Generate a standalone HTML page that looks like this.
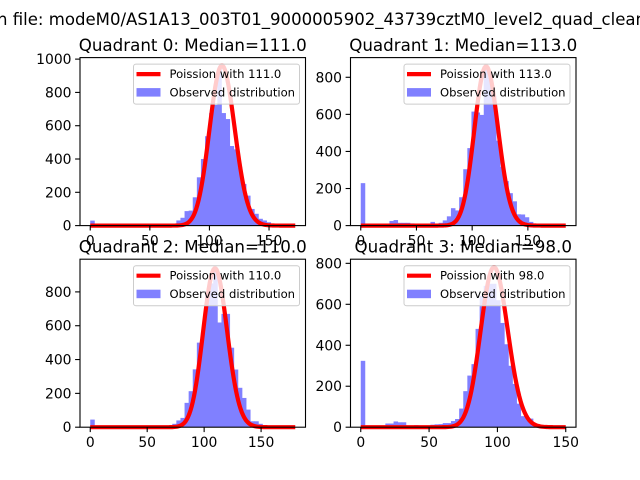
<!DOCTYPE html>
<html><head><meta charset="utf-8"><style>
html,body{margin:0;padding:0;background:#fff;width:640px;height:480px;overflow:hidden}
svg{display:block;font-family:"DejaVu Sans","Liberation Sans",sans-serif}
</style></head><body>
<svg id="fig" width="640" height="480" viewBox="0 0 640 480" xmlns="http://www.w3.org/2000/svg">
<rect width="640" height="480" fill="#fff"/>
<text x="-3" y="25" font-size="16.7" fill="#000" textLength="649" lengthAdjust="spacingAndGlyphs">n file: modeM0/AS1A13_003T01_9000005902_43739cztM0_level2_quad_clean</text>
</svg>
<script>
const titles = ["Quadrant 0: Median=111.0","Quadrant 1: Median=113.0","Quadrant 2: Median=110.0","Quadrant 3: Median=98.0"];
const medians = [111, 113, 110, 98];
const amplitudes = [25400, 22900, 24700, 19400];
const dataMax = [172, 184, 180, 150];
const xTickValues = [0, 50, 100, 150];
const yTickValues = [0, 200, 400, 600, 800, 1000];
const counts0 = [30,0,0,0,0,0,0,0,0,0,0,0,0,0,0,0,0,0,0,0,10,31,47,87,90,170,290,400,537,676,725,950,676,640,478,458,349,250,180,100,71,41,31,20,8,5,3,2,1,1];
const counts1 = [229,0,0,0,0,0,0,25,30,15,15,15,12,10,10,10,10,20,10,15,28,50,94,82,153,304,418,615,610,597,863,797,700,458,317,240,175,131,61,60,45,20,10,5,3,2,1,1,0,0];
const counts2 = [45,0,0,0,0,0,0,0,0,0,0,0,0,0,0,0,0,0,0,8,20,40,55,144,213,342,500,560,780,850,946,619,670,670,470,341,233,173,104,35,35,20,5,2,1,0,0,0,0,0];
const counts3 = [324,0,0,0,0,0,18,18,28,24,24,0,5,10,5,5,8,12,14,15,20,20,30,40,91,176,252,308,480,640,690,700,700,620,509,405,300,211,115,54,50,42,18,5,2,1,1,0,0,0];
const allCounts = [counts0, counts1, counts2, counts3];

const NS = "http://www.w3.org/2000/svg";
const svg = document.getElementById('fig');
function mk(tag, attrs, parent){
  const e = document.createElementNS(NS, tag);
  for (const k in attrs) e.setAttribute(k, attrs[k]);
  (parent||svg).appendChild(e);
  return e;
}
function lgamma(n){ let s=0; for(let i=2;i<=n;i++) s+=Math.log(i); return s; }
function pmf(k, mu){ return Math.exp(k*Math.log(mu) - mu - lgamma(k)); }

const boxes = [[80,57.6],[350.5,57.6],[80,259.2],[350.5,259.2]];
const W = 225.5, H = 168;

for (let p=0;p<4;p++){
  const [L,T] = boxes[p];
  const counts = allCounts[p];
  const d = dataMax[p], n = counts.length, bw = d/n;
  const xmin = -0.05*d, xmax = 1.05*d;
  const X = v => L + (v - xmin)/(xmax - xmin)*W;
  const curve = [];
  for (let k=0;k<=d;k++) curve.push(amplitudes[p]*pmf(k, medians[p]));
  const ymax = 1.05*Math.max(Math.max(...counts), Math.max(...curve));
  const Y = v => T + H - v/ymax*H;
  const g = mk('g', {});
  
  
  counts.forEach((c,i)=>{
    if (c<=0) return;
    const x0 = X(i*bw), x1 = X((i+1)*bw);
    const r = mk('rect', {x:x0, y:Y(c), width:x1-x0+0.4, height:Y(0)-Y(c), fill:'#8080ff'}, g);
    
    
  });
  const pts = curve.map((v,k)=>X(k).toFixed(2)+','+Y(v).toFixed(2)).join(' ');
  const line = mk('polyline', {points:pts, fill:'none', stroke:'#ff0000', 'stroke-width':4.2, 'stroke-linejoin':'round'}, g);
  
  
  const frame = mk('rect', {x:L, y:T, width:W, height:H, fill:'none', stroke:'#000', 'stroke-width':1.1}, g);
  
  
  xTickValues.forEach(v=>{
    const x = X(v);
    const t = mk('line', {x1:x, x2:x, y1:T+H, y2:T+H+4.9, stroke:'#000', 'stroke-width':1.1}, g);
    
    
    const lb = mk('text', {x:x, y:T+H+20, 'font-size':13.9, 'text-anchor':'middle', fill:'#000'}, g);
    lb.textContent = v;
    
    
  });
  yTickValues.forEach(v=>{
    if (v > ymax) return;
    const y = Y(v);
    const t = mk('line', {x1:L-4.9, x2:L, y1:y, y2:y, stroke:'#000', 'stroke-width':1.1}, g);
    
    
    const lb = mk('text', {x:L-8.5, y:y+5, 'font-size':13.9, 'text-anchor':'end', fill:'#000'}, g);
    lb.textContent = v;
    
    
  });
  const tt = mk('text', {x:L+W/2, y:T-6.5, 'font-size':16.7, 'text-anchor':'middle', fill:'#000'}, g);
  tt.textContent = titles[p];
  
  
  const lg = mk('g', {}, g);
  
  
  const lx = L+W-172, ly = T+6.5;
  mk('rect', {x:lx, y:ly, width:166, height:40, rx:2.5, fill:'#fff', 'fill-opacity':0.8, stroke:'#cccccc', 'stroke-width':1}, lg);
  const ls = mk('line', {x1:lx+3, x2:lx+27, y1:ly+10, y2:ly+10, stroke:'#ff0000', 'stroke-width':4.2}, lg);
  
  
  const lt1 = mk('text', {x:lx+36, y:ly+14, 'font-size':11.6, fill:'#000'}, lg);
  lt1.textContent = 'Poission with ' + medians[p].toFixed(1);
  
  
  const lp = mk('rect', {x:lx+3, y:ly+24, width:24, height:8.5, fill:'#8080ff'}, lg);
  
  
  const lt2 = mk('text', {x:lx+36, y:ly+32.5, 'font-size':11.6, fill:'#000'}, lg);
  lt2.textContent = 'Observed distribution';
  
  
}
</script>
</body></html>
